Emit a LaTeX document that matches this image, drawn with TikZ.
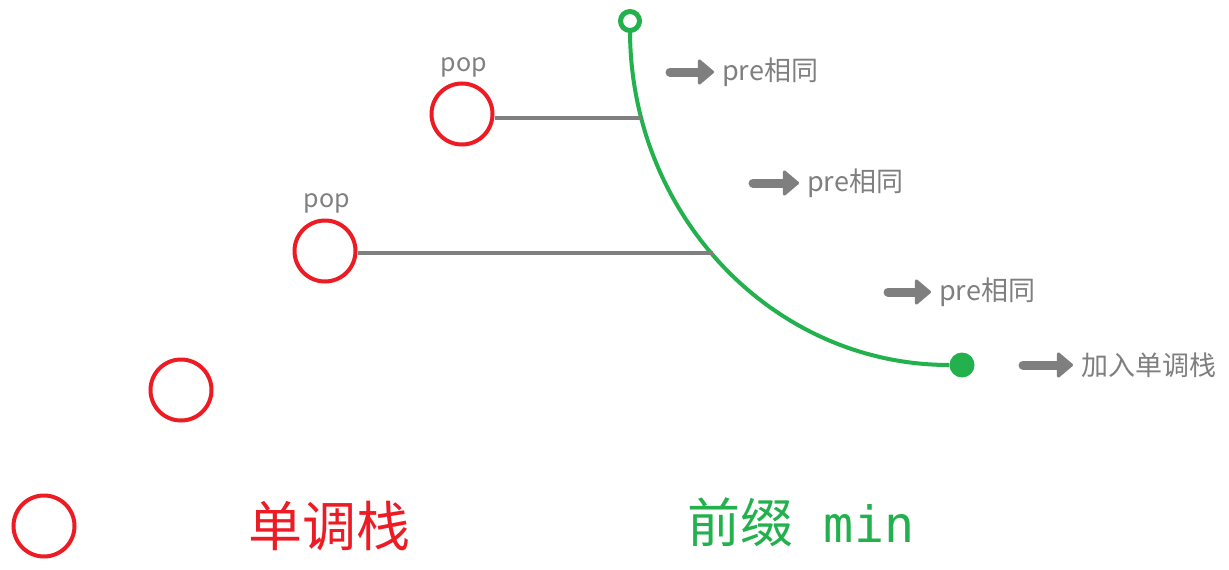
\documentclass[tikz,border=0pt]{standalone}
\usepackage{fontspec}
\setmainfont{Noto Sans CJK SC}
\newfontfamily\monofont{DejaVu Sans Mono}
\usetikzlibrary{arrows.meta}
\definecolor{stackred}{RGB}{237,28,36}
\definecolor{mingreen}{RGB}{34,177,76}
\definecolor{hintgrey}{RGB}{127,127,127}
\tikzset{
  stackelem/.style={circle, draw=stackred, line width=4pt, minimum size=61pt, inner sep=0pt},
  poplabel/.style={text=hintgrey, inner sep=0pt, font=\fontsize{25}{25}\selectfont},
  poplink/.style={draw=hintgrey, line width=4pt},
  openend/.style={circle, draw=mingreen, fill=white, line width=5pt, minimum size=19pt, inner sep=0pt},
  dotend/.style={circle, fill=mingreen, minimum size=25pt, inner sep=0pt},
  mincurve/.style={draw=mingreen, line width=4pt},
  hint/.style={text=hintgrey, anchor=west, inner sep=0pt, font=\fontsize{27}{27}\selectfont},
  hintarrow/.style={draw=hintgrey, line width=9pt, line cap=round, shorten >=8pt,
    -{Triangle[length=17pt,width=28pt,round,line width=3pt]}},
}
\begin{document}
\begin{tikzpicture}[x=1pt,y=-1pt]
  \useasboundingbox (0,0) rectangle (1229,570);

  % monotonic stack
  \node[stackelem] (s1) at (462,114) {};
  \node[stackelem] (s2) at (325,251) {};
  \node[stackelem] (s3) at (181,390) {};
  \node[stackelem] (s4) at (44,526) {};
  \node[poplabel] (p1) at (464,67) {pop};
  \node[poplabel] (p2) at (327,203) {pop};

  % prefix min curve
  \node[dotend] (m1) at (962,365) {};
  \draw[mincurve] (630,30) .. controls (630,215) and (773,365) .. (m1.west);
  \node[openend] (m0) at (630,21) {};

  % popped elements meet the curve
  \coordinate (k1) at (641,118);
  \coordinate (k2) at (713,253);
  \draw[poplink] (s1.east |- k1) -- (k1);
  \draw[poplink] (s2.east |- k2) -- (k2);

  % hints
  \node[hint] (h1) at (722,72) {pre相同};
  \node[hint] (h2) at (807,183) {pre相同};
  \node[hint] (h3) at (939,292) {pre相同};
  \node[hint] (h4) at (1081,365) {加入单调栈};
  \coordinate (a1) at (670,72);
  \coordinate (a2) at (753,183);
  \coordinate (a3) at (888,292);
  \coordinate (a4) at (1023,365);
  \draw[hintarrow] (a1) -- (h1.west);
  \draw[hintarrow] (a2) -- (h2.west);
  \draw[hintarrow] (a3) -- (h3.west);
  \draw[hintarrow] (a4) -- (h4.west);

  % titles
  \node[text=stackred, font=\fontsize{54}{54}\selectfont] (t1) at (329,526) {单调栈};
  \node[text=mingreen, font=\fontsize{53}{53}\selectfont] (t2) at (801,522) {前缀{\monofont\fontsize{50}{50}\selectfont\ min}};
\end{tikzpicture}
\end{document}
